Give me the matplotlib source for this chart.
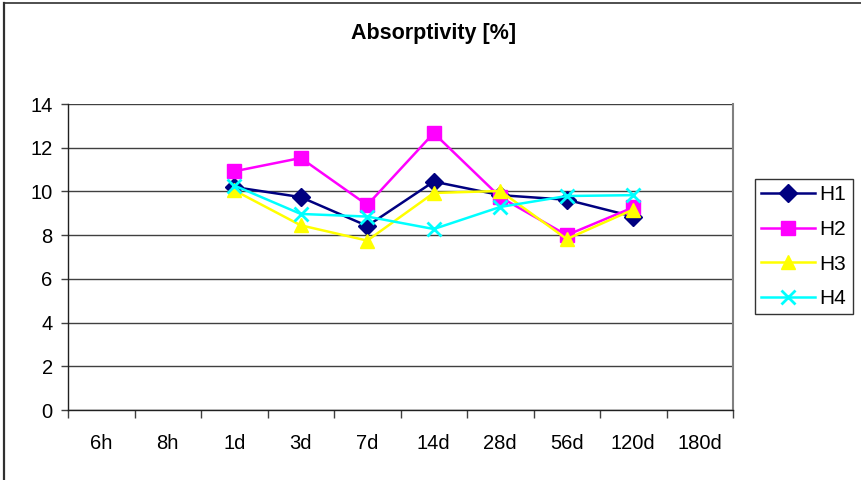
import matplotlib
matplotlib.use("Agg")
import matplotlib.pyplot as plt
from matplotlib.lines import Line2D
import numpy as np

plt.rcParams['font.family'] = ['Liberation Sans', 'DejaVu Sans']

categories = ["6h", "8h", "1d", "3d", "7d", "14d", "28d", "56d", "120d", "180d"]
# values present for 1d .. 120d
H1 = [None, None, 10.20, 9.74, 8.42, 10.45, 9.83, 9.62, 8.85, None]
H2 = [None, None, 10.92, 11.53, 9.38, 12.67, 9.74, 8.00, 9.27, None]
H3 = [None, None, 10.05, 8.45, 7.75, 9.93, 10.02, 7.82, 9.17, None]
H4 = [None, None, 10.27, 8.97, 8.85, 8.28, 9.29, 9.79, 9.83, None]
series_names = ["H1", "H2", "H3", "H4"]
title = "Absorptivity [%]"
yticks = [0, 2, 4, 6, 8, 10, 12, 14]

W, H = 861, 480
fig = plt.figure(figsize=(W / 100, H / 100), dpi=100)
ax = fig.add_axes([68 / W, 1 - 410 / H, (733 - 68) / W, (410 - 104) / H])

x = np.arange(len(categories))
styles = [
    dict(color="#000080", marker="D", markersize=9),
    dict(color="#FF00FF", marker="s", markersize=9.5),
    dict(color="#FFFF00", marker="^", markersize=10.5),
    dict(color="#00FFFF", marker="x", markersize=9.5, markeredgewidth=2),
]
for name, vals, st in zip(series_names, [H1, H2, H3, H4], styles):
    arr = np.array([np.nan if v is None else v for v in vals], dtype=float)
    ax.plot(x, arr, linewidth=1.8, label=name, zorder=3, **st)

ax.set_xlim(-0.5, len(categories) - 0.5)
ax.set_ylim(0, 14)
ax.set_yticks(yticks)
ax.set_yticklabels([str(t) for t in yticks], fontsize=14.5)
ax.set_xticks(x)
ax.set_xticklabels(categories, fontsize=14.5)
ax.set_xticks(np.arange(len(categories) + 1) - 0.5, minor=True)
ax.tick_params(axis="x", which="major", length=0, pad=17)
ax.tick_params(axis="x", which="minor", length=6, width=1, color="#404040", direction="out")
ax.tick_params(axis="y", which="major", length=5, width=1, color="#404040", direction="out", pad=6)

ax.yaxis.grid(True, color="#404040", linewidth=1)
ax.set_axisbelow(True)
for s in ["left", "bottom"]:
    ax.spines[s].set_color("#202020")
    ax.spines[s].set_linewidth(1)
ax.spines["top"].set_visible(False)
ax.spines["right"].set_color("#808080")
ax.spines["right"].set_linewidth(1.5)

fig.text(434 / W, 1 - 33 / H, title, ha="center", va="center", fontsize=15.5, fontweight="bold")

leg = fig.legend(loc="upper left", bbox_to_anchor=(755 / W, 1 - 179 / H),
                 fontsize=15, frameon=True, fancybox=False, shadow=False,
                 handlelength=2.6, labelspacing=0.75, borderpad=0.3,
                 handletextpad=0.2, borderaxespad=0)
leg.get_frame().set_edgecolor("#000000")
leg.get_frame().set_linewidth(1)

# figure border (left and top visible)
fig.add_artist(Line2D([3.5 / W, 3.5 / W], [0, 1 - 2.5 / H], transform=fig.transFigure,
                      color="#303030", linewidth=1.6))
fig.add_artist(Line2D([3.5 / W, 1], [1 - 2.5 / H, 1 - 2.5 / H], transform=fig.transFigure,
                      color="#303030", linewidth=1.2))

fig.savefig("out.png", dpi=100)
